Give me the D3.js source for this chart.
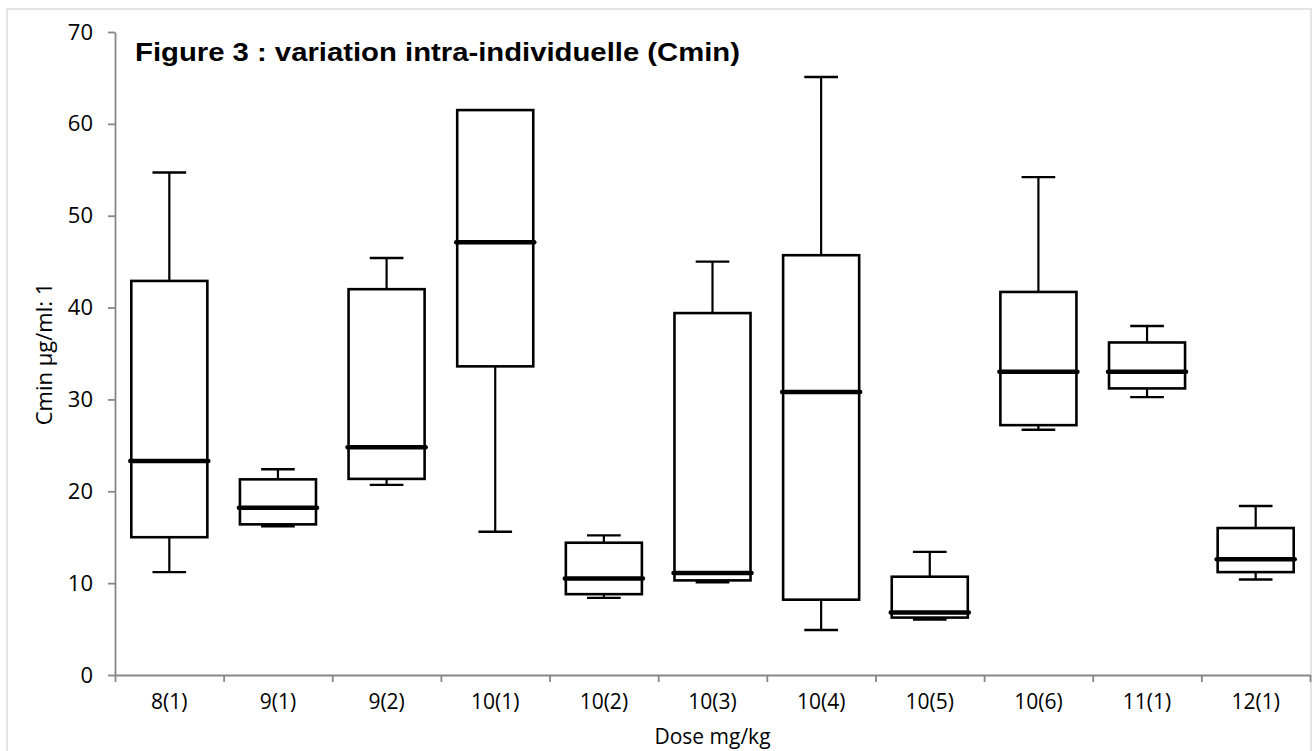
<!DOCTYPE html>
<html lang="fr">
    <head>
        <meta charset="utf-8">
        <title>Figure 3 : variation intra-individuelle (Cmin)</title>
        <script type="text/javascript" src="https://cdn.jsdelivr.net/npm/d3@7"></script>
        <style type="text/css">
            body { margin: 0; background: #fff; }
            .tick text { font-family: "Open Sans", sans-serif; fill: #000; }
        </style>
    </head>
    <body>
        <script type="text/javascript">

            //Data
            var categories  = ["8(1)", "9(1)", "9(2)", "10(1)", "10(2)", "10(3)", "10(4)", "10(5)", "10(6)", "11(1)", "12(1)"];
            var whiskerHigh = [54.7, 22.4, 45.4, 61.5, 15.2, 45.0, 65.1, 13.4, 54.2, 38.0, 18.4];
            var q3          = [42.9, 21.3, 42.0, 61.5, 14.4, 39.4, 45.7, 10.7, 41.7, 36.2, 16.0];
            var medians     = [23.3, 18.2, 24.8, 47.1, 10.5, 11.1, 30.8, 6.8, 33.0, 33.0, 12.6];
            var q1          = [15.0, 16.4, 21.35, 33.6, 8.8, 10.3, 8.2, 6.25, 27.2, 31.2, 11.2];
            var whiskerLow  = [11.2, 16.2, 20.7, 15.6, 8.4, 10.1, 4.9, 6.05, 26.7, 30.25, 10.4];
            var yTicks      = [0, 10, 20, 30, 40, 50, 60, 70];

            //Width and height
            var w = 1312;
            var h = 751;
            var plotLeft = 115, plotRight = 1310, plotTop = 32, plotBottom = 675;

            var svg = d3.select("body")
                        .append("svg")
                        .attr("width", w)
                        .attr("height", h);

            //light frame round the chart area
            svg.append("rect")
               .attr("x", 7).attr("y", 9)
               .attr("width", 1304).attr("height", 760)
               .attr("fill", "#fff")
               .attr("stroke", "#e3e3e3")
               .attr("stroke-width", 2);

            var y = d3.scaleLinear().domain([0, 70]).range([plotBottom, plotTop]);
            var x = d3.scaleBand().domain(categories).range([plotLeft, plotRight]);
            var xEdges = d3.scaleLinear().domain([0, categories.length]).range([plotLeft, plotRight]);

            var data = categories.map(function(c, i) {
                return { cat: c, hi: whiskerHigh[i], q3: q3[i], med: medians[i], q1: q1[i], lo: whiskerLow[i] };
            });

            //Y axis
            var yAxis = svg.append("g")
                .attr("transform", "translate(" + plotLeft + ",0)")
                .call(d3.axisLeft(y).tickValues(yTicks).tickSize(7).tickSizeOuter(0).tickPadding(15));
            yAxis.selectAll("text").style("font-size", "22px");

            //X axis: ticks on the category edges, labels in the middle
            svg.append("g")
                .attr("transform", "translate(0," + plotBottom + ")")
                .call(d3.axisBottom(xEdges).ticks(categories.length).tickSize(7).tickSizeOuter(0).tickFormat(""));
            svg.append("g")
                .attr("transform", "translate(0," + plotBottom + ")")
                .call(d3.axisBottom(x).tickSize(0).tickPadding(19))
                .call(function(g) { g.select(".domain").remove(); })
                .selectAll("text").style("font-size", "21px");

            svg.selectAll(".domain, .tick line")
               .attr("stroke", "#878787")
               .attr("stroke-width", 1.8);

            var bw = x.bandwidth() * 0.70;
            var cw = x.bandwidth() * 0.31;

            var boxes = svg.selectAll("g.box")
                .data(data)
                .enter()
                .append("g")
                .attr("class", "box")
                .attr("transform", function(d) { return "translate(" + (x(d.cat) + x.bandwidth() / 2) + ",0)"; });

            //whiskers
            boxes.append("line")
                 .attr("x1", 0).attr("x2", 0)
                 .attr("y1", function(d) { return y(d.hi); })
                 .attr("y2", function(d) { return y(d.lo); })
                 .attr("stroke", "#000").attr("stroke-width", 2.2);
            boxes.append("line")
                 .attr("x1", -cw / 2).attr("x2", cw / 2)
                 .attr("y1", function(d) { return y(d.hi); })
                 .attr("y2", function(d) { return y(d.hi); })
                 .attr("stroke", "#000").attr("stroke-width", 2.4);
            boxes.append("line")
                 .attr("x1", -cw / 2).attr("x2", cw / 2)
                 .attr("y1", function(d) { return y(d.lo); })
                 .attr("y2", function(d) { return y(d.lo); })
                 .attr("stroke", "#000").attr("stroke-width", 2.4);

            //boxes
            boxes.append("rect")
                 .attr("x", -bw / 2)
                 .attr("width", bw)
                 .attr("y", function(d) { return y(d.q3); })
                 .attr("height", function(d) { return y(d.q1) - y(d.q3); })
                 .attr("fill", "#fff")
                 .attr("stroke", "#000")
                 .attr("stroke-width", 2.6);

            //median
            boxes.append("line")
                 .attr("x1", -bw / 2 - 1).attr("x2", bw / 2 + 1)
                 .attr("y1", function(d) { return y(d.med); })
                 .attr("y2", function(d) { return y(d.med); })
                 .attr("stroke", "#000")
                 .attr("stroke-width", 4.5)
                 .attr("stroke-linecap", "round");

            //Titles
            svg.append("text")
               .text("Figure 3 : variation intra-individuelle (Cmin)")
               .attr("x", 135)
               .attr("y", 61)
               .attr("font-family", "'Liberation Sans', Arial, sans-serif")
               .attr("font-weight", "bold")
               .attr("font-size", "25px")
               .attr("textLength", 605)
               .attr("lengthAdjust", "spacingAndGlyphs");

            svg.append("text")
               .text("Dose mg/kg")
               .attr("x", (plotLeft + plotRight) / 2)
               .attr("y", 744)
               .attr("text-anchor", "middle")
               .attr("font-family", "'Open Sans', sans-serif")
               .attr("font-size", "21px");

            svg.append("text")
               .text("Cmin µg/ml: 1")
               .attr("transform", "translate(52,354) rotate(-90)")
               .attr("text-anchor", "middle")
               .attr("font-family", "'Open Sans', sans-serif")
               .attr("font-size", "22px");

        </script>
    </body>
</html>
